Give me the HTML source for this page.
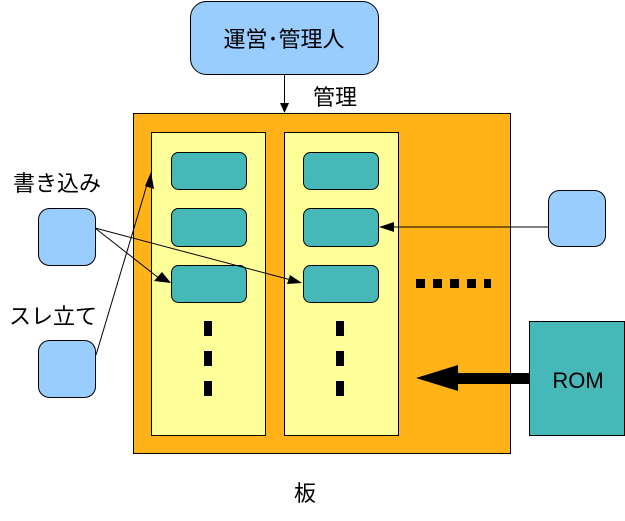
<!DOCTYPE html>
<html><head><meta charset="utf-8"><style>html,body{margin:0;padding:0;background:#fff}svg{display:block}</style></head>
<body>
<svg width="625" height="521" viewBox="0 0 625 521" xmlns="http://www.w3.org/2000/svg" font-family="'Liberation Sans','Noto Sans CJK JP',sans-serif">
<rect x="190.5" y="1.5" width="188" height="73" rx="16" fill="#99ccff" stroke="#000"/>
<text x="284" y="47" font-size="22" text-anchor="middle">運営･管理人</text>
<line x1="284.5" y1="75" x2="284.5" y2="106" stroke="#000"/>
<polygon points="280,103 289,103 284.5,113" fill="#000"/>
<text x="313" y="105" font-size="22">管理</text>
<rect x="133.5" y="113.5" width="377" height="340" fill="#ffb319" stroke="#000"/>
<rect x="151.5" y="132.5" width="114" height="303" fill="#ffff99" stroke="#000"/>
<rect x="284.5" y="132.5" width="114" height="303" fill="#ffff99" stroke="#000"/>
<g fill="#47b8b8" stroke="#000">
<rect x="171.5" y="152.5" width="75" height="37" rx="7"/>
<rect x="171.5" y="208.5" width="75" height="38" rx="7"/>
<rect x="171.5" y="265.5" width="75" height="37" rx="7"/>
<rect x="303.5" y="152.5" width="75" height="37" rx="7"/>
<rect x="303.5" y="208.5" width="75" height="38" rx="7"/>
<rect x="303.5" y="265.5" width="75" height="37" rx="7"/>
</g>
<g fill="#000">
<rect x="204" y="321" width="8" height="15"/><rect x="204" y="351" width="8" height="15"/><rect x="204" y="381" width="8" height="15"/>
<rect x="336" y="321" width="8" height="15"/><rect x="336" y="351" width="8" height="15"/><rect x="336" y="381" width="8" height="15"/>
<rect x="416" y="279" width="9" height="9"/><rect x="433" y="279" width="9" height="9"/><rect x="450" y="279" width="9" height="9"/><rect x="467" y="279" width="9" height="9"/><rect x="484" y="279" width="7" height="9"/>
</g>
<rect x="38.5" y="208.5" width="57" height="57" rx="11" fill="#99ccff" stroke="#000"/>
<rect x="38.5" y="340.5" width="57" height="57" rx="11" fill="#99ccff" stroke="#000"/>
<rect x="548.5" y="190.5" width="57" height="56" rx="11" fill="#99ccff" stroke="#000"/>
<rect x="529.5" y="321.5" width="95" height="114" fill="#47b8b8" stroke="#000"/>
<text x="578" y="388" font-size="22" text-anchor="middle">ROM</text>
<text x="13" y="191" font-size="22">書き込み</text>
<text x="9" y="324" font-size="22">スレ立て</text>
<text x="305" y="501" font-size="22" text-anchor="middle">板</text>
<g stroke="#000" stroke-width="1" fill="none">
<line x1="95" y1="228" x2="160" y2="279"/>
<line x1="95" y1="228" x2="295" y2="281"/>
<line x1="96" y1="355" x2="149" y2="178"/>
<line x1="548" y1="227" x2="386" y2="227"/>
</g>
<g fill="#000">
<polygon points="171,283 154,281 162,272"/>
<polygon points="302,283 287,284 290,275"/>
<polygon points="151,172 154,189 145,186"/>
<polygon points="379,227 394,222 394,232"/>
<rect x="458" y="373" width="71" height="11"/>
<polygon points="416,378 458,365 458,391"/>
</g>
</svg>
</body></html>
